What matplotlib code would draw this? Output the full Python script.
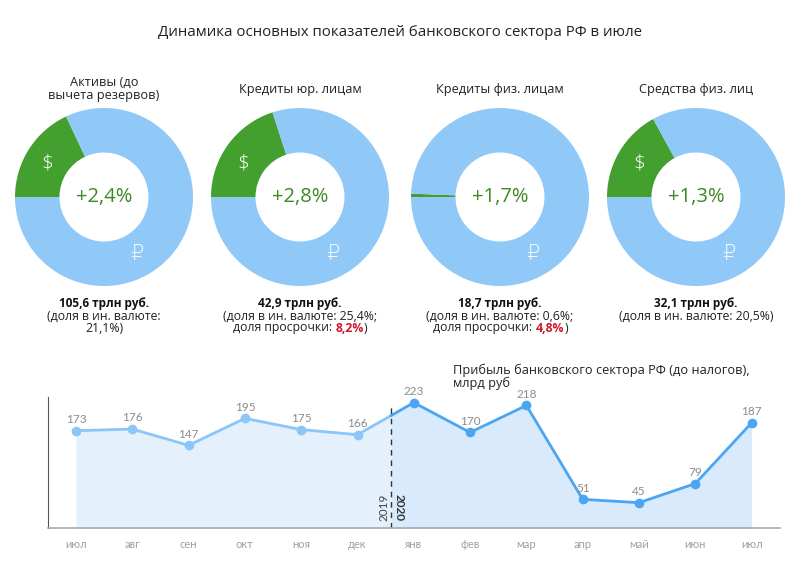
import numpy as np
import matplotlib
matplotlib.use('Agg')
import matplotlib.pyplot as plt

plt.rcParams['font.family'] = ['Open Sans', 'DejaVu Sans']

# --- donut data ---
donut_titles = ['Активы (до\nвычета резервов)', 'Кредиты юр. лицам',
                'Кредиты физ. лицам', 'Средства физ. лиц']
growth = ['+2,4%', '+2,8%', '+1,7%', '+1,3%']
usd_share = [18.0, 20.0, 0.6, 17.0]   # slice sizes as drawn
totals = ['105,6 трлн руб.', '42,9 трлн руб.', '18,7 трлн руб.', '32,1 трлн руб.']
notes = [['(доля в ин. валюте:', '21,1%)'],
         ['(доля в ин. валюте: 25,4%;', 'доля просрочки: '],
         ['(доля в ин. валюте: 0,6%;', 'доля просрочки: '],
         ['(доля в ин. валюте: 20,5%)']]
overdue = [None, '8,2%', '4,8%', None]

# --- profit data ---
months = ['июл', 'авг', 'сен', 'окт', 'ноя', 'дек', 'янв', 'фев', 'мар',
          'апр', 'май', 'июн', 'июл']
profit = [173, 176, 147, 195, 175, 166, 223, 170, 218, 51, 45, 79, 187]

GREEN = '#43a02f'
LBLUE = '#90c8f8'
TXTGREEN = '#3d8a22'

fig = plt.figure(figsize=(8, 5.66), dpi=100)
fig.text(0.5, 1 - 32 / 566, 'Динамика основных показателей банковского сектора РФ в июле',
         ha='center', va='center', fontsize=10.8, color='#222222')

centers_x = [104, 300, 500, 696]
cy = 197
R = 89
W, H = 800, 566

for i in range(4):
    cx = centers_x[i]
    ax = fig.add_axes([(cx - R) / W, 1 - (cy + R) / H, 2 * R / W, 2 * R / H])
    s = usd_share[i]
    ax.pie([s, 100 - s], colors=[GREEN, LBLUE], startangle=180, counterclock=False,
           radius=1, wedgeprops=dict(width=0.5, edgecolor='none'))
    ax.set_xlim(-1, 1)
    ax.set_ylim(-1, 1)
    ax.set_aspect('equal')
    ax.axis('off')
    ax.text(0, 0, growth[i], ha='center', va='center', fontsize=14.5, color=TXTGREEN)
    if s > 5:
        ax.text(-0.64, 0.38, '$', ha='center', va='center', fontsize=15, color='white',
                fontweight='light')
    ax.text(0.37, -0.64, '₽', ha='center', va='center', fontsize=15, color='white',
            family=['DejaVu Sans'], fontweight='light')

    # title above
    ty = 89 if '\n' in donut_titles[i] else 90
    fig.text(cx / W, 1 - ty / H, donut_titles[i], ha='center', va='center',
             fontsize=9.2, color='#222222', linespacing=1.05)

    # texts below
    fig.text(cx / W, 1 - 303 / H, totals[i], ha='center', va='center',
             fontsize=8.5, fontweight='bold', color='#111111')
    for j, line in enumerate(notes[i]):
        y = 1 - (316 + 12 * j) / H
        if overdue[i] is not None and j == 1:
            t = fig.text(cx / W, y, line + overdue[i] + ')', ha='center', va='center',
                         fontsize=8.8, color='white')
            # draw in parts so that the percent is red and bold
            r = fig.canvas.get_renderer()
            bb = t.get_window_extent(renderer=r)
            t.set_visible(False)
            x0 = bb.x0 / W
            t1 = fig.text(x0, y, line, ha='left', va='center', fontsize=8.8, color='#222222')
            b1 = t1.get_window_extent(renderer=r)
            t2 = fig.text(b1.x1 / W, y, overdue[i], ha='left', va='center', fontsize=8.8,
                          fontweight='bold', color='#d0182b')
            b2 = t2.get_window_extent(renderer=r)
            fig.text(b2.x1 / W, y, ')', ha='left', va='center', fontsize=8.8, color='#222222')
        else:
            fig.text(cx / W, y, line, ha='center', va='center', fontsize=8.8, color='#222222')

# --- profit line chart ---
ax = fig.add_axes([48 / W, 1 - 528 / H, (780 - 48) / W, (528 - 397) / H])
x = np.arange(len(profit))
divider = 5.6
split = int(np.ceil(divider))
y_div = np.interp(divider, x, profit)

x_a = np.append(x[:split], divider)
y_a = np.append(profit[:split], y_div)
x_b = np.insert(x[split:].astype(float), 0, divider)
y_b = np.insert(np.array(profit[split:], dtype=float), 0, y_div)

ax.fill_between(x_a, y_a, 0, color='#e4f0fc', lw=0)
ax.fill_between(x_b, y_b, 0, color='#d8eafb', lw=0)
ax.plot(x_a, y_a, color='#8cc6f8', lw=2)
ax.plot(x_b, y_b, color='#4aa6f3', lw=2)
ax.plot(x[:split], profit[:split], 'o', color='#8cc6f8', ms=7, mec='none')
ax.plot(x[split:], profit[split:], 'o', color='#4aa6f3', ms=7, mec='none')

for xi, v in zip(x, profit):
    ax.annotate(str(v), (xi, v), xytext=(0, 4), textcoords='offset points',
                ha='center', va='bottom', fontsize=8.5, color='#8c8c8c', family=['Lato'])

ax.plot([divider, divider], [0, 223], color='#333333', lw=1, ls=(0, (4, 3.5)))
ax.text(divider - 0.04, 12, '2019', rotation=90, ha='right', va='bottom',
        fontsize=8.5, color='#444444', family=['Lato'])
ax.text(divider + 0.04, 12, '2020', rotation=270, ha='left', va='bottom',
        fontsize=8.5, color='#333333', fontweight='bold', family=['Lato'])

ax.set_xlim(-(76 - 48) / 56.3, (780 - 76) / 56.3)
ax.set_ylim(0, 233)
ax.set_xticks(x)
ax.set_xticklabels(months, fontsize=8, color='#a0a0a0', family=['Lato'])
ax.tick_params(axis='x', length=0, pad=8)
ax.set_yticks([])
for sp in ['top', 'right']:
    ax.spines[sp].set_visible(False)
ax.spines['left'].set_color('#555555')
ax.spines['bottom'].set_color('#aaaaaa')
ax.spines['bottom'].set_linewidth(1.2)

fig.text(453 / W, 1 - 377 / H, 'Прибыль банковского сектора РФ (до налогов),\nмлрд руб',
         ha='left', va='center', fontsize=9.2, color='#222222', linespacing=0.95)

fig.savefig('out.png', dpi=100, facecolor='white')
